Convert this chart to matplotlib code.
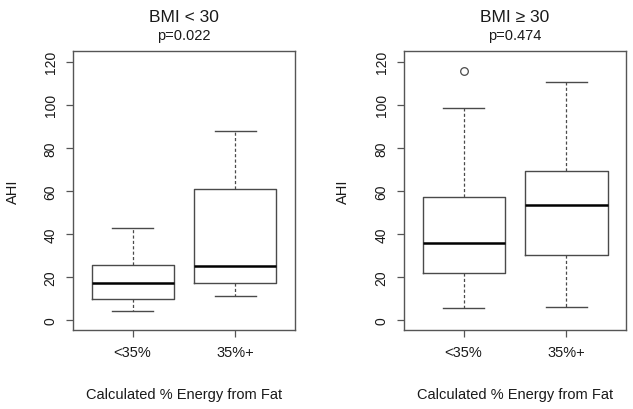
import matplotlib
matplotlib.use("Agg")
import matplotlib.pyplot as plt

plt.rcParams['font.family'] = ['Liberation Sans', 'DejaVu Sans']

categories = ["<35%", "35%+"]
titles = ["BMI < 30", "BMI \u2265 30"]
pvalues = ["p=0.022", "p=0.474"]
yticks = [0, 20, 40, 60, 80, 100, 120]

# five-number summaries per panel
low_bmi_whislo = [4.3, 11.0]
low_bmi_q1 = [9.9, 17.2]
low_bmi_med = [17.2, 25.1]
low_bmi_q3 = [25.8, 60.9]
low_bmi_whishi = [42.7, 87.8]
low_bmi_fliers = [[], []]

high_bmi_whislo = [5.7, 6.2]
high_bmi_q1 = [21.9, 30.4]
high_bmi_med = [35.9, 53.5]
high_bmi_q3 = [57.4, 69.1]
high_bmi_whishi = [98.7, 110.7]
high_bmi_fliers = [[115.7], []]

panels = [
    (low_bmi_whislo, low_bmi_q1, low_bmi_med, low_bmi_q3, low_bmi_whishi, low_bmi_fliers),
    (high_bmi_whislo, high_bmi_q1, high_bmi_med, high_bmi_q3, high_bmi_whishi, high_bmi_fliers),
]

W, H = 633, 410
fig = plt.figure(figsize=(W / 100, H / 100), dpi=100)
fig.patch.set_facecolor('white')

axes_left_px = [73, 404]
ylabel_x_px = [13, 343]
ax_w, ax_top, ax_bot = 222, 52, 331

text_color = '#1a1a1a'
frame_color = '#555555'
box_color = '#4a4a4a'

for i, (wl, q1, med, q3, wh, fl) in enumerate(panels):
    x0 = axes_left_px[i]
    ax = fig.add_axes([x0 / W, 1 - ax_bot / H, ax_w / W, (ax_bot - ax_top) / H])
    stats = []
    for j in range(len(categories)):
        stats.append(dict(whislo=wl[j], q1=q1[j], med=med[j], q3=q3[j],
                          whishi=wh[j], fliers=fl[j], label=categories[j]))
    ax.bxp(stats, positions=[1, 2], widths=0.8, showfliers=True,
           boxprops=dict(color=box_color, linewidth=1.0),
           medianprops=dict(color='black', linewidth=1.8),
           whiskerprops=dict(color=box_color, linewidth=0.9, linestyle=(0, (2.5, 1.8))),
           capprops=dict(color=box_color, linewidth=1.0),
           capwidths=0.4,
           flierprops=dict(marker='o', markerfacecolor='none', markeredgecolor=box_color,
                           markersize=5.5, markeredgewidth=0.9))
    ax.set_xlim(0.42, 2.58)
    ax.set_ylim(-4.6, 125.0)
    ax.set_yticks(yticks)
    ax.set_yticklabels([str(t) for t in yticks], rotation=90, va='center',
                       fontsize=10, color=text_color)
    ax.set_xticks([1, 2])
    ax.set_xticklabels(categories, fontsize=10.5, color=text_color)
    ax.tick_params(axis='y', length=5, width=0.9, color=frame_color, pad=6)
    ax.tick_params(axis='x', length=5, width=0.9, color=frame_color, pad=6)
    for s in ax.spines.values():
        s.set_color(frame_color)
        s.set_linewidth(1.0)
    ax.set_ylabel("AHI", fontsize=10.5, color=text_color)
    ax.yaxis.set_label_coords((ylabel_x_px[i] - x0) / ax_w, 0.5)
    ax.set_xlabel("Calculated % Energy from Fat", fontsize=10.5, color=text_color)
    ax.xaxis.set_label_coords(0.5, -(395 - ax_bot) / (ax_bot - ax_top))
    ax.xaxis.label.set_va('center')
    ax.yaxis.label.set_va('center')
    cx = (x0 + ax_w / 2) / W
    fig.text(cx, 1 - 17 / H, titles[i], ha='center', va='center', fontsize=12.5, color=text_color)
    fig.text(cx, 1 - 36 / H, pvalues[i], ha='center', va='center', fontsize=10.5, color=text_color)

fig.savefig("out.png", dpi=100)
